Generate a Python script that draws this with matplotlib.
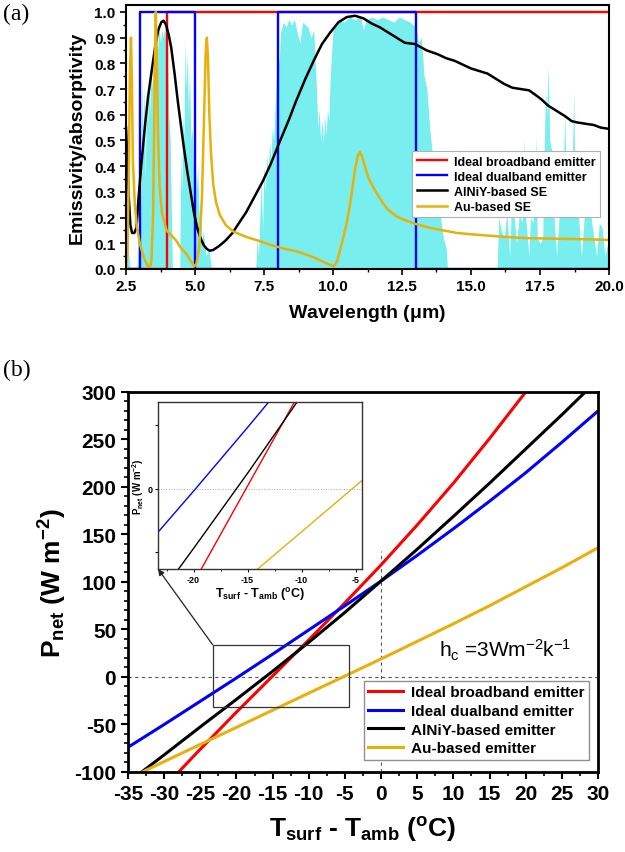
import numpy as np
import matplotlib
matplotlib.use('Agg')
import matplotlib.pyplot as plt
from matplotlib.patches import Rectangle
from matplotlib.ticker import MultipleLocator, FormatStrFormatter

plt.rcParams['font.family'] = ['Liberation Sans', 'DejaVu Sans']
plt.rcParams['mathtext.fontset'] = 'custom'
plt.rcParams['mathtext.rm'] = 'Liberation Sans'
plt.rcParams['mathtext.bf'] = 'Liberation Sans:bold'
plt.rcParams['mathtext.it'] = 'Liberation Sans:italic'
plt.rcParams['axes.unicode_minus'] = False

# ---------------- panel (a) data ----------------
# atmospheric transmittance (background)
atm_wl = [2.50, 2.55, 2.60, 2.65, 2.90, 2.95, 3.00, 3.05, 3.08, 3.12, 3.16, 3.20, 3.24,
          3.28, 3.32, 3.36, 3.40, 3.45, 3.50, 3.55, 3.60, 3.65, 3.70, 3.75, 3.80, 3.85,
          3.90, 3.95, 4.00, 4.05, 4.10, 4.15, 4.18, 4.45, 4.48, 4.52, 4.56, 4.60, 4.64,
          4.68, 4.72, 4.76, 4.80, 4.85, 4.90, 4.95, 5.00, 5.05, 5.10, 5.15, 5.20, 5.25,
          5.30, 5.40, 5.50, 5.60, 7.20, 7.25, 7.30, 7.35, 7.40, 7.45, 7.50, 7.55, 7.60,
          7.65, 7.70, 7.75, 7.80, 7.85, 7.90, 7.95, 8.00, 8.05, 8.10, 8.20, 8.30, 8.40,
          8.50, 8.60, 8.70, 8.80, 8.90, 9.00, 9.10, 9.20, 9.30, 9.40, 9.45, 9.50, 9.55,
          9.60, 9.65, 9.70, 9.75, 9.80, 9.85, 9.90, 9.95, 10.00, 10.20, 10.40, 10.60,
          10.80, 11.00, 11.10, 11.20, 11.40, 11.60, 11.80, 12.00, 12.20, 12.40, 12.60,
          12.80, 13.00, 13.10, 13.20, 13.30, 13.40, 13.50, 13.60, 13.70, 13.80, 13.90,
          14.00, 14.10, 14.15, 15.95, 16.00, 16.10, 16.20, 16.30, 16.40, 16.45, 16.55,
          16.65, 16.75, 16.85, 16.93, 16.98, 17.10, 17.15, 17.25, 17.35, 17.40, 17.50,
          17.60, 17.65, 17.70, 17.75, 17.80, 17.85, 17.95, 18.00, 18.10, 18.20, 18.30,
          18.40, 18.45, 18.55, 18.65, 18.72, 18.78, 18.90, 19.00, 19.10, 19.25, 19.35,
          19.45, 19.55, 19.65, 19.75, 19.85, 19.95, 20.00]
atm_tr = [0.00, 0.25, 0.05, 0.00, 0.00, 0.15, 0.45, 0.20, 0.75, 0.50, 0.72, 0.35, 0.69,
          0.55, 0.77, 0.60, 0.80, 0.70, 0.82, 0.75, 0.90, 0.85, 0.94, 0.88, 0.93, 0.90,
          0.94, 0.86, 0.90, 0.60, 0.50, 0.20, 0.00, 0.00, 0.45, 0.30, 0.60, 0.50, 0.88,
          0.70, 0.85, 0.60, 0.78, 0.50, 0.55, 0.35, 0.43, 0.30, 0.40, 0.20, 0.27, 0.10,
          0.15, 0.05, 0.08, 0.00, 0.00, 0.12, 0.05, 0.20, 0.36, 0.15, 0.40, 0.30, 0.45,
          0.35, 0.50, 0.42, 0.55, 0.50, 0.62, 0.75, 0.84, 0.80, 0.92, 0.96, 0.94, 0.97,
          0.95, 0.97, 0.92, 0.88, 0.96, 0.95, 0.94, 0.90, 0.93, 0.70, 0.55, 0.62, 0.50,
          0.58, 0.49, 0.60, 0.52, 0.62, 0.58, 0.75, 0.84, 0.93, 0.97, 0.96, 0.98,
          0.97, 0.98, 0.93, 0.97, 0.98, 0.97, 0.98, 0.97, 0.96, 0.98, 0.97,
          0.96, 0.94, 0.88, 0.90, 0.75, 0.70, 0.55, 0.45, 0.35, 0.25, 0.20,
          0.12, 0.08, 0.00, 0.00, 0.20, 0.15, 0.12, 0.22, 0.05, 0.20, 0.22,
          0.10, 0.21, 0.18, 0.51, 0.20, 0.05, 0.20, 0.18, 0.51, 0.12, 0.10,
          0.12, 0.45, 0.69, 0.60, 0.79, 0.50, 0.45, 0.22, 0.05, 0.22, 0.20,
          0.61, 0.30, 0.22, 0.30, 0.69, 0.25, 0.20, 0.05, 0.20, 0.24, 0.20,
          0.12, 0.05, 0.18, 0.16, 0.05, 0.10, 0.10]

broad_wl = [2.5, 4.0, 4.0, 20.0]
broad_em = [0, 0, 1, 1]
dual_wl = [2.5, 3.0, 3.0, 5.0, 5.0, 8.0, 8.0, 13.0, 13.0, 20.0]
dual_em = [0, 0, 1, 1, 0, 0, 1, 1, 0, 0]

alniy_wl = [2.50, 2.55, 2.60, 2.66, 2.72, 2.80, 2.88, 2.95, 3.05, 3.19, 3.30, 3.43, 3.55,
            3.67, 3.78, 3.86, 3.95, 4.05, 4.14, 4.26, 4.38, 4.50, 4.60, 4.72, 4.84,
            4.96, 5.08, 5.20, 5.32, 5.44, 5.54, 5.66, 5.88, 6.10, 6.36, 6.60, 6.85,
            7.15, 7.45, 7.75, 8.05, 8.40, 8.65, 9.00, 9.30, 9.60, 9.90, 10.20, 10.50,
            10.80, 11.10, 11.40, 11.70, 12.00, 12.30, 12.60, 12.97, 13.40, 13.80,
            14.10, 14.40, 14.70, 15.00, 15.30, 15.60, 15.90, 16.20, 16.50, 16.80,
            17.10, 17.30, 17.55, 17.80, 18.10, 18.40, 18.65, 18.85, 19.15, 19.45,
            19.70, 20.00]
alniy_em = [0.55, 0.42, 0.28, 0.17, 0.14, 0.14, 0.16, 0.27, 0.40, 0.56, 0.67, 0.77, 0.86,
            0.93, 0.96, 0.966, 0.95, 0.91, 0.86, 0.76, 0.65, 0.55, 0.47, 0.38, 0.30,
            0.22, 0.16, 0.12, 0.092, 0.077, 0.071, 0.074, 0.09, 0.11, 0.14, 0.18, 0.22,
            0.28, 0.34, 0.41, 0.49, 0.58, 0.65, 0.74, 0.81, 0.875, 0.92, 0.96, 0.98,
            0.985, 0.975, 0.955, 0.94, 0.92, 0.90, 0.88, 0.875, 0.85, 0.835,
            0.82, 0.81, 0.795, 0.78, 0.77, 0.76, 0.74, 0.72, 0.705, 0.70,
            0.695, 0.68, 0.66, 0.635, 0.615, 0.595, 0.575, 0.57, 0.565, 0.56,
            0.55, 0.545]

au_wl = [2.50, 2.55, 2.60, 2.64, 2.68, 2.71, 2.75, 2.82, 2.90, 3.00, 3.10, 3.20, 3.30,
         3.36, 3.42, 3.48, 3.52, 3.56, 3.58, 3.61, 3.66, 3.72, 3.80, 3.97, 4.15, 4.32,
         4.50, 4.68, 4.85, 4.98, 5.05, 5.15, 5.25, 5.33, 5.39, 5.43, 5.47, 5.52, 5.58,
         5.66, 5.76, 5.90, 6.12, 6.40, 6.85, 7.30, 7.70, 8.20, 8.80, 9.30, 9.70, 10.03,
         10.15, 10.30, 10.50, 10.66, 10.80, 10.90, 10.97, 11.05, 11.15, 11.30, 11.50,
         11.67, 11.85, 12.00, 12.30, 12.60, 13.00, 13.50, 14.00, 14.50, 15.00, 15.60,
         16.20, 17.00, 18.00, 19.00, 20.00]
au_em = [0.00, 0.05, 0.35, 0.75, 0.90, 0.75, 0.42, 0.25, 0.16, 0.10, 0.06, 0.03, 0.01,
         0.00, 0.03, 0.20, 0.55, 0.90, 1.00, 0.85, 0.52, 0.32, 0.22, 0.15, 0.13, 0.11,
         0.08, 0.06, 0.03, 0.01, 0.02, 0.08, 0.27, 0.60, 0.85, 0.90, 0.82, 0.60, 0.45,
         0.33, 0.26, 0.21, 0.17, 0.145, 0.125, 0.11, 0.095, 0.08, 0.065, 0.045, 0.025, 0.01,
         0.03, 0.09, 0.18, 0.28, 0.39, 0.44, 0.455, 0.44, 0.40, 0.35, 0.31,
         0.28, 0.25, 0.23, 0.205, 0.19, 0.175, 0.16, 0.15, 0.14, 0.135, 0.13,
         0.125, 0.12, 0.118, 0.116, 0.113]

# ---------------- panel (b) data ----------------
dT_red = [-28, -25, -20, -15, -10, -5, 0, 5, 10, 15, 20]
P_red = [-100, -76, -37, 1, 39, 78, 118, 160, 204, 251, 300]
dT_blue = [-35, -30, -25, -20, -15, -10, -5, 0, 5, 10, 15, 20, 25, 30]
P_blue = [-74, -50, -25.5, -1, 24, 49.5, 75, 101, 128, 156, 185, 215, 247, 280]
dT_black = [-33, -30, -25, -20, -15, -10, -5, 0, 5, 10, 15, 20, 25, 30]
P_black = [-99.4, -82, -52.5, -23.5, 6, 36.5, 68, 101, 134.5, 169, 204, 240, 276, 313]
dT_au = [-33, -30, -25, -20, -15, -10, -5, 0, 5, 10, 15, 20, 25, 30]
P_au = [-100, -89, -71, -53, -35, -17, 1, 19, 37.5, 56, 75, 95, 115, 136]

c_red = '#ff0000'
c_blue = '#0000ff'
c_black = '#000000'
c_au = '#e8b00a'
c_atm = '#78eeee'

fig = plt.figure(figsize=(6.25, 8.53), dpi=100)

# ================= (a) =================
ax1 = fig.add_axes([0.2016, 0.6835, 0.7728, 0.3095])
ax1.fill_between(atm_wl, 0, atm_tr, color=c_atm, lw=0)
ax1.plot(broad_wl, broad_em, color=c_red, lw=1.7, label='Ideal broadband emitter')
ax1.plot(dual_wl, dual_em, color=c_blue, lw=1.7, label='Ideal dualband emitter')
ax1.plot(alniy_wl, alniy_em, color=c_black, lw=1.8, label='AlNiY-based SE')
ax1.plot(au_wl, au_em, color=c_au, lw=1.8, label='Au-based SE')
ax1.set_xlim(2.5, 20)
ax1.set_ylim(0, 1.027)
ax1.xaxis.set_major_locator(MultipleLocator(2.5))
ax1.xaxis.set_minor_locator(MultipleLocator(1.25))
ax1.yaxis.set_major_locator(MultipleLocator(0.1))
ax1.yaxis.set_minor_locator(MultipleLocator(0.05))
ax1.xaxis.set_major_formatter(FormatStrFormatter('%.1f'))
ax1.yaxis.set_major_formatter(FormatStrFormatter('%.1f'))
ax1.tick_params(which='major', direction='out', length=4, width=1.2, labelsize=11)
ax1.tick_params(which='minor', direction='out', length=2.5, width=1)
for lab in ax1.get_xticklabels() + ax1.get_yticklabels():
    lab.set_fontweight('bold')
for sp in ax1.spines.values():
    sp.set_linewidth(1.5)
ax1.set_xlabel(r'Wavelength ($\mathbf{\mu}$m)', fontsize=14, fontweight='bold', labelpad=6)
ax1.set_ylabel('Emissivity/absorptivity', fontsize=14, fontweight='bold', labelpad=6)
leg1 = ax1.legend(loc='upper right', bbox_to_anchor=(0.995, 0.47), fancybox=False,
                  edgecolor='#b0b0b0', framealpha=1, handlelength=2.4,
                  labelspacing=0.25, borderpad=0.35, handletextpad=0.6,
                  prop={'weight': 'bold', 'size': 9})
leg1.get_frame().set_linewidth(0.8)

# ================= (b) =================
ax2 = fig.add_axes([0.2048, 0.0938, 0.752, 0.4455])
ax2.axhline(0, color='#555555', lw=0.8, ls=(0, (3, 3)))
ax2.plot([0, 0], [-100, 133], color='#555555', lw=0.8, ls=(0, (3, 3)))
ax2.plot(dT_red, P_red, color=c_red, lw=2.2, label='Ideal broadband emitter')
ax2.plot(dT_blue, P_blue, color=c_blue, lw=2.2, label='Ideal dualband emitter')
ax2.plot(dT_black, P_black, color=c_black, lw=2.2, label='AlNiY-based emitter')
ax2.plot(dT_au, P_au, color=c_au, lw=2.2, label='Au-based emitter')
ax2.set_xlim(-35, 30)
ax2.set_ylim(-100, 300)
ax2.xaxis.set_major_locator(MultipleLocator(5))
ax2.xaxis.set_minor_locator(MultipleLocator(2.5))
ax2.yaxis.set_major_locator(MultipleLocator(50))
ax2.yaxis.set_minor_locator(MultipleLocator(10))
ax2.tick_params(which='major', direction='out', length=5, width=1.5, labelsize=15)
ax2.tick_params(which='minor', direction='out', length=3, width=1.2)
for lab in ax2.get_xticklabels() + ax2.get_yticklabels():
    lab.set_fontweight('bold')
for sp in ax2.spines.values():
    sp.set_linewidth(2)
ax2.set_xlabel(r'T$_\mathbf{surf}$ - T$_\mathbf{amb}$ ($^\mathbf{o}$C)',
               fontsize=19, fontweight='bold', labelpad=8)
ax2.set_ylabel(r'$\mathbf{P_{net}}$ $\mathbf{(W\ m^{-2})}$', fontsize=19, labelpad=4)
ax2.text(8.0, 22, r'h$_\mathrm{c}$ =3Wm$^\mathrm{-2}$k$^\mathrm{-1}$', fontsize=15)

zx0, zx1, zy0, zy1 = -23.3, -4.4, -31.6, 34.0
ax2.add_patch(Rectangle((zx0, zy0), zx1 - zx0, zy1 - zy0, fill=False,
                        edgecolor='#333333', lw=0.9, zorder=5))

leg2 = ax2.legend(loc='lower right', bbox_to_anchor=(0.997, 0.012), fancybox=False,
                  edgecolor='#909090', framealpha=1, handlelength=2.3,
                  labelspacing=0.3, borderpad=0.3, handletextpad=0.5,
                  prop={'weight': 'bold', 'size': 11})
leg2.get_frame().set_linewidth(1.0)

# inset
axin = fig.add_axes([0.2528, 0.3318, 0.3264, 0.1958])
axin.axhline(0, color='#aaaaaa', lw=0.7, ls=':')
axin.plot(dT_red, P_red, color=c_red, lw=1.0)
axin.plot(dT_blue, P_blue, color=c_blue, lw=1.0)
axin.plot(dT_black, P_black, color=c_black, lw=1.0)
axin.plot(dT_au, P_au, color=c_au, lw=1.0)
axin.set_xlim(zx0, zx1)
axin.set_ylim(zy0, zy1)
axin.set_xticks([-20, -15, -10, -5])
axin.xaxis.set_minor_locator(MultipleLocator(2.5))
axin.set_yticks([-25, 0, 25])
axin.set_yticklabels(['', '0', ''])
axin.tick_params(which='major', direction='out', length=2.5, width=0.8, labelsize=6.5, pad=1.5)
axin.tick_params(which='minor', direction='out', length=1.5, width=0.6)
for lab in axin.get_xticklabels() + axin.get_yticklabels():
    lab.set_fontweight('bold')
for sp in axin.spines.values():
    sp.set_linewidth(1.0)
    sp.set_color('#333333')
axin.set_xlabel(r'T$_\mathbf{surf}$ - T$_\mathbf{amb}$ ($^\mathbf{o}$C)',
                fontsize=9, fontweight='bold', labelpad=1)
axin.set_ylabel(r'$\mathbf{P_{net}}$ $\mathbf{(W\ m^{-2})}$', fontsize=7, labelpad=1)

ax2.annotate('', xy=(0, 0), xycoords=axin.transAxes, xytext=(zx0, zy1),
             textcoords='data',
             arrowprops=dict(arrowstyle='-|>', color='#222222', lw=0.9,
                             mutation_scale=9, shrinkA=0, shrinkB=0))

fig.text(0.004, 0.996, '(a)', va='top', ha='left', fontsize=17, family='Liberation Serif')
fig.text(0.004, 0.578, '(b)', va='top', ha='left', fontsize=17, family='Liberation Serif')

fig.savefig('out.png', dpi=100)
